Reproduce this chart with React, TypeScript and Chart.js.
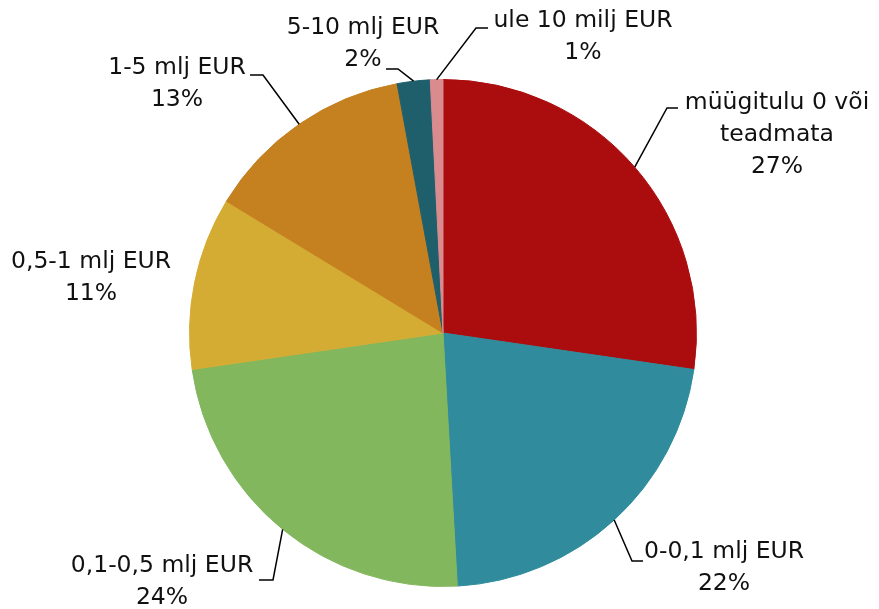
import React, { useEffect, useRef } from "react";
import { Chart, registerables } from "chart.js";

Chart.register(...registerables);

const categories: string[][] = [
  ["müügitulu 0 või", "teadmata"],
  ["0-0,1 mlj EUR"],
  ["0,1-0,5 mlj EUR"],
  ["0,5-1 mlj EUR"],
  ["1-5 mlj EUR"],
  ["5-10 mlj EUR"],
  ["ule 10 milj EUR"],
];
const shares: number[] = [27.3, 21.8, 23.6, 11.0, 13.4, 2.1, 0.8];
const colors: string[] = ["#AB0D0F", "#308C9C", "#82B75D", "#D5AC33", "#C5801F", "#1F5F6C", "#D98B8E"];

// label block centre and leader elbow/end, as offsets from the pie centre (px)
type Lay = { cx: number; cy: number; line?: [number, number, number, number] };
const labelLayout: Lay[] = [
  { cx: 334, cy: -198, line: [224, -225, 235, -225] },
  { cx: 281, cy: 235, line: [189, 228, 200, 228] },
  { cx: -281, cy: 249, line: [-170, 247, -184, 247] },
  { cx: -352, cy: -55 },
  { cx: -266, cy: -249, line: [-180, -258, -193, -258] },
  { cx: -80, cy: -289, line: [-45, -264, -57, -264] },
  { cx: 140, cy: -296, line: [33, -305, 45, -305] },
];

const FONT = '23.5px "DejaVu Sans"';
const LINE_H = 32;

const labelPlugin = {
  id: "outerLabels",
  afterDatasetsDraw(chart: any) {
    const ctx = chart.ctx as CanvasRenderingContext2D;
    const meta = chart.getDatasetMeta(0);
    const data = chart.data.datasets[0].data as number[];
    const total = data.reduce((a, b) => a + b, 0);
    ctx.save();
    meta.data.forEach((arc: any, i: number) => {
      const p = arc.getProps(["x", "y", "startAngle", "endAngle", "outerRadius"], true);
      const mid = (p.startAngle + p.endAngle) / 2;
      const ax = p.x + Math.cos(mid) * p.outerRadius;
      const ay = p.y + Math.sin(mid) * p.outerRadius;
      const lay = labelLayout[i];
      if (lay.line) {
        ctx.beginPath();
        ctx.strokeStyle = "#000";
        ctx.lineWidth = 1.5;
        ctx.moveTo(ax, ay);
        ctx.lineTo(p.x + lay.line[0], p.y + lay.line[1]);
        ctx.lineTo(p.x + lay.line[2], p.y + lay.line[3]);
        ctx.stroke();
      }
      const lines = [...(chart.data.labels[i] as string[]), Math.round((data[i] / total) * 100) + "%"];
      ctx.font = FONT;
      ctx.fillStyle = "#111";
      ctx.textAlign = "center";
      ctx.textBaseline = "middle";
      const cx = p.x + lay.cx;
      const top = p.y + lay.cy - ((lines.length - 1) * LINE_H) / 2;
      lines.forEach((t, k) => ctx.fillText(t, cx, top + k * LINE_H));
    });
    ctx.restore();
  },
};

export default function App() {
  const ref = useRef<HTMLCanvasElement>(null);
  useEffect(() => {
    if (!ref.current) return;
    const chart = new Chart(ref.current, {
      type: "pie",
      data: {
        labels: categories,
        datasets: [{ data: shares, backgroundColor: colors, borderColor: colors, borderWidth: 1 }],
      },
      options: {
        responsive: false,
        animation: false,
        layout: { padding: { left: 189, right: 182, top: 79, bottom: 22 } },
        plugins: { legend: { display: false }, tooltip: { enabled: false } },
      },
      plugins: [labelPlugin],
    });
    return () => chart.destroy();
  }, []);
  return (
    <div style={{ position: "fixed", left: 0, top: 0, width: 879, height: 609, background: "#fff" }}>
      <canvas ref={ref} width={879} height={609} />
    </div>
  );
}
